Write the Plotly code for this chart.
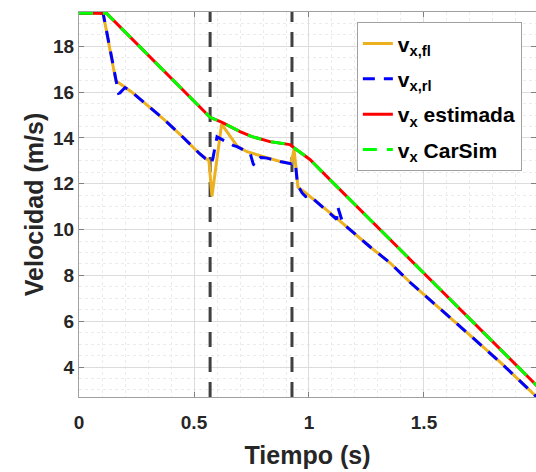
import plotly.graph_objects as go

# ---- data ----
t_est = [0, 0.12, 0.57, 0.622, 0.70, 0.752, 0.83, 0.917, 0.939, 1.004, 1.104, 2.0]
v_est = [19.44, 19.44, 14.9, 14.68, 14.28, 14.06, 13.84, 13.71, 13.54, 13.06, 12.05, 3.09]
t_carsim = [0, 0.12, 0.57, 0.622, 0.70, 0.752, 0.83, 0.917, 0.939, 1.004, 1.104, 2.0]
v_carsim = [19.44, 19.44, 14.9, 14.68, 14.28, 14.06, 13.84, 13.71, 13.54, 13.06, 12.05, 3.09]

t_fl = [0, 0.105, 0.16, 0.23, 0.365, 0.44, 0.526, 0.565, 0.578, 0.62, 0.687, 0.73,
        0.817, 0.874, 0.922, 0.935, 0.952, 0.983, 1.12, 1.22, 1.265, 1.352, 1.439,
        1.526, 1.613, 1.713, 1.83, 2.0]
v_fl = [19.44, 19.44, 16.5, 16.0, 14.85, 14.15, 13.3, 13.0, 11.45, 14.6, 13.65, 13.4,
        13.14, 12.97, 12.88, 13.5, 11.85, 11.62, 10.5, 9.64, 9.25, 8.55, 7.7,
        6.93, 6.14, 5.27, 4.22, 2.6]

t_rl = [0, 0.105, 0.172, 0.178, 0.2, 0.23, 0.365, 0.44, 0.526, 0.55, 0.567, 0.576,
        0.582, 0.6, 0.67, 0.687, 0.73, 0.745, 0.758, 0.766, 0.776, 0.79, 0.817,
        0.874, 0.922, 0.94, 0.943, 0.95, 0.97, 0.985, 1.0, 1.12, 1.126, 1.148,
        1.22, 1.265, 1.352, 1.439, 1.526, 1.613, 1.713, 1.83, 2.0]
v_rl = [19.44, 19.44, 15.95, 15.97, 16.2, 16.0, 14.85, 14.15, 13.3, 13.1, 13.05, 12.92,
        13.1, 14.05, 13.68, 13.62, 13.4, 13.3, 12.85, 12.8, 13.0, 13.15, 13.12,
        12.97, 12.88, 12.93, 12.7, 11.95, 11.6, 11.44, 11.5, 10.45, 10.96, 10.25,
        9.64, 9.25, 8.55, 7.7, 6.93, 6.14, 5.27, 4.22, 2.6]

eventos = [0.57, 0.926]

x_ticks = [0, 0.5, 1, 1.5]
x_ticklabels = ["0", "0.5", "1", "1.5"]
y_ticks = [4, 6, 8, 10, 12, 14, 16, 18]
y_ticklabels = ["4", "6", "8", "10", "12", "14", "16", "18"]

names = ["v<sub>x,fl</sub>", "v<sub>x,rl</sub>", "v<sub>x</sub> estimada", "v<sub>x</sub> CarSim"]

FONT = "Liberation Sans"
TXT = "#262626"

fig = go.Figure()

y_lo, y_hi = 2.69, 19.5
for xe in eventos:
    fig.add_trace(go.Scatter(x=[xe, xe], y=[y_lo, y_hi], mode="lines",
                             line=dict(color="#404040", width=3, dash="15px,10px"),
                             showlegend=False, hoverinfo="skip"))

fig.add_trace(go.Scatter(x=t_fl, y=v_fl, mode="lines", name=names[0], legendgroup="a",
                         line=dict(color="#EDB120", width=3)))
fig.add_trace(go.Scatter(x=t_rl, y=v_rl, mode="lines", name=names[1], legendgroup="b",
                         line=dict(color="#0000FF", width=3, dash="12px,9px")))
fig.add_trace(go.Scatter(x=t_est, y=v_est, mode="lines", name=names[2], legendgroup="c",
                         line=dict(color="#FF0000", width=3)))
fig.add_trace(go.Scatter(x=t_carsim, y=v_carsim, mode="lines", name=names[3], legendgroup="d",
                         line=dict(color="#00FF00", width=3, dash="14px,10px")))

fig.update_layout(
    width=536, height=472,
    margin=dict(l=79, r=0, t=12, b=75, autoexpand=False),
    paper_bgcolor="white", plot_bgcolor="white",
    font=dict(family=FONT, color=TXT, size=19, weight="bold"),
    legend=dict(x=0.608, y=0.973, xanchor="left", yanchor="top",
                bgcolor="white", bordercolor="#a0a0a0", borderwidth=1,
                font=dict(family=FONT, size=21, color="#000000", weight="bold"),
                tracegroupgap=5),
    showlegend=True,
)

fig.update_xaxes(
    range=[0, 1.987], tickvals=x_ticks, ticktext=x_ticklabels, automargin=False,
    ticks="inside", ticklen=5, tickcolor="#808080", mirror="ticks",
    showline=True, linecolor="#a0a0a0", linewidth=1,
    showgrid=True, gridcolor="#dcdcdc", gridwidth=1, zeroline=False,
    minor=dict(dtick=0.1, showgrid=True, gridcolor="#ebebeb", griddash="dot", ticks=""),
    tickfont=dict(family=FONT, size=19, color=TXT, weight="bold"),
    ticklabelstandoff=8,
    title=dict(text="Tiempo (s)", font=dict(family=FONT, size=25, color=TXT, weight="bold"),
               standoff=14),
)
fig.update_yaxes(
    range=[y_lo, y_hi], tickvals=y_ticks, ticktext=y_ticklabels, automargin=False,
    ticks="inside", ticklen=5, tickcolor="#808080", mirror="ticks",
    showline=True, linecolor="#a0a0a0", linewidth=1,
    showgrid=True, gridcolor="#dcdcdc", gridwidth=1, zeroline=False,
    minor=dict(dtick=0.5, showgrid=True, gridcolor="#ebebeb", griddash="dot", ticks=""),
    tickfont=dict(family=FONT, size=19, color=TXT, weight="bold"),
    title=dict(text="Velocidad (m/s)", font=dict(family=FONT, size=25, color=TXT, weight="bold"),
               standoff=2),
)

fig.write_html("out.html", config={"displayModeBar": False},
               post_script="document.body.style.margin='0';document.body.style.overflow='hidden';")
